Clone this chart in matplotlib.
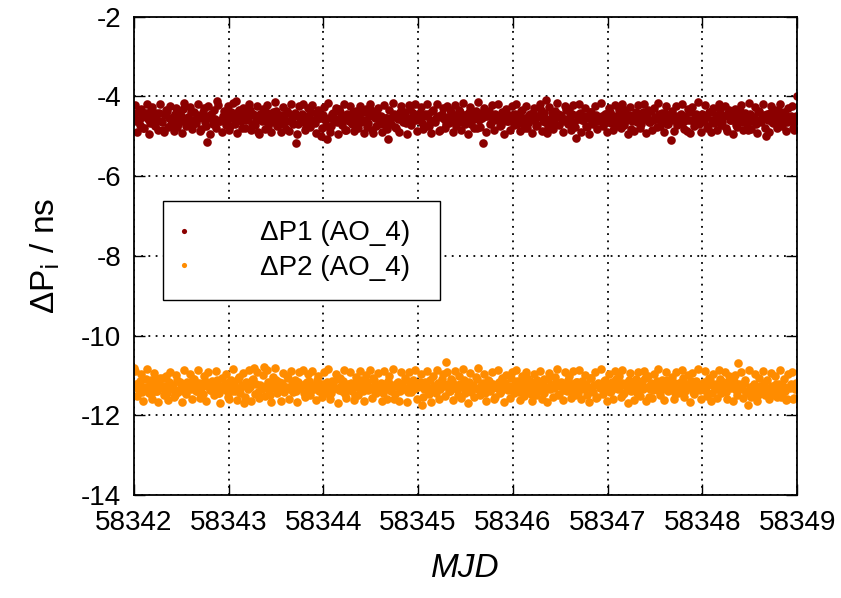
import matplotlib
matplotlib.use("Agg")
import matplotlib.pyplot as plt
import numpy as np

plt.rcParams['font.family'] = ['Liberation Sans', 'DejaVu Sans']
plt.rcParams['axes.unicode_minus'] = False

# muestras cada 15 min desde MJD 58342 hasta 58349 (dos pasadas intercaladas)
t0 = 58342
muestras_por_dia = 48

# pasada A: en punto de cada media hora
dp1_a = [
    -4.45, -4.62, -4.38, -4.71, -4.52, -4.80, -4.41, -4.57, -4.66, -4.33, -4.49, -4.74, -4.58, -4.42, -4.61, -4.85,
    -4.47, -4.36, -4.55, -4.69, -4.51, -4.43, -4.77, -4.60, -4.48, -4.31, -4.64, -4.53, -4.72, -4.40, -4.58, -4.67,
    -4.46, -4.54, -4.82, -4.39, -4.63, -5.15, -4.50, -4.44, -4.70, -4.56, -4.12, -4.61, -4.59, -4.50, -4.48, -4.66,
    -4.52, -4.73, -4.41, -4.57, -4.12, -4.38, -4.50, -4.79, -4.45, -4.60, -4.55, -4.34, -4.68, -4.47, -4.58, -4.88,
    -4.43, -4.62, -4.51, -4.40, -4.75, -4.56, -4.49, -4.65, -4.37, -4.59, -4.70, -4.46, -4.53, -4.81, -4.42, -4.61,
    -4.57, -4.48, -5.16, -4.69, -4.54, -4.44, -4.63, -4.76, -4.62, -4.50, -4.39, -4.58, -4.66, -4.45, -4.55, -5.00,
    -4.47, -4.60, -5.06, -4.53, -4.74, -4.42, -4.57, -4.65, -4.31, -4.49, -4.59, -4.83, -4.44, -4.62, -4.51, -4.38,
    -4.70, -4.55, -4.46, -4.64, -4.40, -4.58, -4.77, -4.50, -4.35, -4.92, -4.54, -4.43, -4.68, -4.48, -4.56, -4.72,
    -4.55, -5.06, -4.63, -4.52, -4.45, -4.80, -4.57, -4.39, -4.60, -4.49, -4.67, -4.54, -4.32, -4.62, -4.47, -4.58,
    -4.53, -4.41, -4.66, -4.50, -4.75, -4.44, -4.59, -4.37, -4.62, -4.55, -4.48, -4.84, -4.43, -4.57, -4.69, -4.51,
    -4.34, -4.60, -4.46, -4.73, -4.52, -4.40, -4.64, -4.56, -4.47, -4.61, -4.38, -4.70, -4.54, -4.45, -4.79, -4.58,
    -4.42, -5.17, -4.50, -4.50, -4.36, -4.67, -4.55, -4.44, -4.60, -4.49, -4.72, -4.57, -4.39, -4.62, -4.53, -4.46,
    -4.59, -4.43, -4.68, -4.51, -4.37, -4.64, -4.55, -4.80, -4.46, -4.60, -4.41, -4.57, -4.71, -4.49, -4.33, -4.62,
    -4.54, -4.08, -4.76, -4.58, -4.40, -4.66, -4.52, -4.45, -4.47, -4.61, -4.56, -4.35, -4.69, -4.50, -4.44, -4.63,
    -5.04, -4.57, -4.42, -4.59, -4.48, -4.73, -4.53, -4.38, -4.65, -4.55, -4.46, -4.61, -4.60, -4.50, -4.67, -4.43,
    -4.56, -4.39, -4.62, -4.48, -4.74, -4.53, -4.42, -4.66, -4.58, -4.35, -4.60, -4.47, -4.81, -4.55, -4.44, -4.63,
    -4.51, -4.70, -4.40, -4.57, -4.49, -4.64, -4.36, -4.59, -4.52, -4.77, -4.45, -4.61, -4.54, -4.41, -4.68, -4.56,
    -5.08, -4.60, -4.48, -4.72, -4.55, -4.43, -4.65, -4.50, -4.86, -4.58, -4.38, -4.62, -4.53, -4.46, -4.69, -4.57,
    -4.44, -4.61, -4.52, -4.75, -4.40, -4.58, -4.66, -4.47, -4.55, -4.34, -4.63, -4.50, -4.79, -4.42, -4.60, -4.54,
    -4.45, -4.71, -4.57, -4.37, -4.64, -4.49, -4.56, -4.83, -4.43, -4.62, -4.51, -4.68, -4.39, -4.59, -4.53, -4.46,
    -5.00, -4.58, -4.41, -4.65, -4.55, -4.48, -4.61, -4.36, -4.70, -4.52, -4.44, -4.63, -4.57, -4.50, -4.78, -4.62,
    -3.98,
]

dp2_a = [
    -10.80, -11.22, -11.35, -11.14, -11.41, -11.28, -11.09, -11.33, -11.19, -11.46, -11.25, -11.12, -11.38, -11.21, -11.30, -11.05,
    -11.27, -11.44, -11.16, -11.32, -11.24, -11.50, -11.11, -11.36, -11.20, -11.29, -11.42, -11.15, -11.26, -11.34, -11.08, -11.23,
    -11.39, -11.18, -11.31, -11.47, -11.13, -11.27, -11.22, -11.37, -11.17, -11.29, -11.10, -11.43, -11.25, -11.33, -11.19, -11.40,
    -11.26, -11.14, -11.38, -11.21, -11.31, -11.09, -11.45, -11.24, -11.70, -11.17, -11.35, -11.28, -11.12, -10.82, -11.20, -11.41,
    -11.23, -11.33, -10.78, -11.27, -11.16, -11.48, -11.22, -11.30, -11.11, -11.36, -11.25, -11.19, -11.42, -11.29, -11.07, -11.34,
    -11.21, -11.26, -11.39, -11.15, -11.32, -11.24, -11.44, -11.18, -11.28, -11.13, -11.37, -11.23, -11.30, -11.10, -11.40, -11.25,
    -11.20, -11.35, -11.16, -11.29, -11.43, -11.22, -11.31, -11.08, -11.37, -11.26, -11.14, -11.46, -11.23, -11.33, -11.18, -11.27,
    -11.52, -11.21, -11.30, -11.11, -11.39, -11.24, -11.17, -11.34, -11.28, -11.06, -11.41, -11.25, -11.32, -11.19, -11.45, -11.22,
    -11.29, -11.13, -11.36, -11.24, -11.60, -11.27, -11.15, -11.38, -11.21, -11.31, -11.10, -11.42, -11.26, -11.18, -11.34, -11.23,
    -11.28, -11.17, -11.74, -11.33, -11.22, -11.40, -11.12, -11.30, -11.25, -11.45, -11.19, -11.35, -11.08, -11.27, -10.66, -11.21,
    -11.38, -11.14, -11.31, -11.24, -11.48, -11.20, -11.29, -11.11, -11.36, -11.26, -11.16, -11.42, -11.23, -11.32, -11.09, -11.37,
    -11.25, -11.18, -11.44, -11.28, -11.13, -11.34, -11.21, -11.55, -11.30, -11.15, -11.39, -11.24, -11.19, -11.33, -11.27, -11.07,
    -11.36, -11.22, -11.14, -11.41, -11.29, -11.18, -11.33, -11.05, -11.26, -11.47, -11.21, -11.31, -11.12, -11.38, -11.24, -11.17,
    -11.43, -11.28, -11.09, -11.35, -11.23, -11.30, -11.15, -11.50, -11.25, -11.19, -11.37, -11.27, -11.10, -11.40, -11.22, -11.32,
    -11.16, -11.44, -11.26, -11.13, -11.34, -11.20, -11.29, -11.06, -11.39, -11.24, -11.57, -11.18, -11.31, -11.27, -11.14, -11.36,
    -11.23, -11.41, -11.17, -11.30, -11.08, -11.35, -11.26, -11.19, -11.46, -11.22, -11.32, -11.11, -11.38, -11.25, -11.15, -11.43,
    -11.28, -11.20, -11.34, -11.07, -11.29, -11.53, -11.18, -11.36, -11.24, -11.13, -11.40, -11.27, -11.21, -11.33, -11.10, -11.37,
    -11.25, -11.16, -11.45, -11.29, -11.19, -11.31, -11.06, -11.39, -11.22, -11.28, -11.14, -11.42, -11.26, -11.18, -11.34, -11.23,
    -11.30, -11.17, -11.38, -11.24, -11.12, -11.44, -11.27, -11.20, -11.35, -11.09, -11.32, -11.22, -11.41, -11.16, -11.29, -11.26,
    -11.13, -11.37, -10.68, -11.23, -11.34, -11.19, -11.45, -11.74, -11.28, -11.40, -11.21, -11.33, -11.48, -11.25, -11.36, -11.18,
    -11.42, -11.30, -11.52, -11.27, -11.39, -11.22, -11.46, -11.31, -11.55, -11.26, -11.38, -11.60, -11.29, -11.20, -11.58, -11.35,
    -11.32,
]

# pasada B: un cuarto de hora después
dp1_b = [
    -4.22, -4.88, -4.60, -4.31, -4.79, -4.47, -4.18, -4.93, -4.55, -4.27, -4.70, -4.41, -4.84, -4.20, -4.64, -4.90,
    -4.35, -4.76, -4.24, -4.58, -4.86, -4.29, -4.68, -4.44, -4.91, -4.17, -4.73, -4.52, -4.26, -4.82, -4.39, -4.66,
    -4.19, -4.87, -4.48, -4.30, -4.75, -4.23, -4.94, -4.57, -4.33, -4.80, -4.21, -4.62, -4.89, -4.37, -4.71, -4.25,
    -4.83, -4.40, -4.16, -4.69, -4.92, -4.34, -4.61, -4.28, -4.78, -4.50, -4.19, -4.85, -4.43, -4.72, -4.24, -4.95,
    -4.56, -4.32, -4.81, -4.21, -4.67, -4.89, -4.38, -4.15, -4.74, -4.46, -4.90, -4.27, -4.63, -4.36, -4.86, -4.20,
    -4.70, -4.42, -4.93, -4.25, -4.59, -4.18, -4.84, -4.49, -4.30, -4.77, -4.22, -4.65, -4.91, -4.33, -4.55, -4.80,
    -4.26, -4.73, -4.17, -4.88, -4.45, -4.62, -4.29, -4.94, -4.39, -4.71, -4.20, -4.83, -4.51, -4.24, -4.68, -4.87,
    -4.36, -4.79, -4.23, -4.58, -4.92, -4.31, -4.66, -4.19, -4.85, -4.43, -4.75, -4.28, -4.60, -4.90, -4.21, -4.54,
    -4.82, -4.34, -4.69, -4.16, -4.77, -4.48, -4.89, -4.25, -4.63, -4.38, -4.93, -4.22, -4.72, -4.41, -4.18, -4.86,
    -4.57, -4.27, -4.81, -4.45, -4.20, -4.74, -4.91, -4.35, -4.64, -4.19, -4.87, -4.52, -4.30, -4.78, -4.24, -4.67,
    -4.40, -4.88, -4.21, -4.61, -4.33, -4.84, -4.17, -4.70, -4.47, -4.93, -4.26, -4.59, -4.80, -4.37, -4.15, -4.76,
    -4.53, -4.29, -4.90, -4.42, -4.68, -4.22, -4.85, -4.56, -4.19, -4.73, -4.39, -4.94, -4.31, -4.62, -4.83, -4.25,
    -4.71, -4.18, -4.58, -4.87, -4.34, -4.79, -4.23, -4.66, -4.44, -4.91, -4.28, -4.75, -4.50, -4.20, -4.86, -4.41,
    -4.63, -4.92, -4.27, -4.55, -4.81, -4.36, -4.17, -4.72, -4.48, -4.89, -4.24, -4.65, -4.32, -4.84, -4.21, -4.77,
    -4.46, -4.19, -4.88, -4.60, -4.30, -4.76, -4.93, -4.38, -4.69, -4.23, -4.82, -4.53, -4.16, -4.74, -4.43, -4.90,
    -4.28, -4.67, -4.85, -4.21, -4.57, -4.35, -4.80, -4.18, -4.71, -4.49, -4.94, -4.26, -4.62, -4.87, -4.40, -4.22,
    -4.78, -4.45, -4.20, -4.91, -4.33, -4.64, -4.83, -4.29, -4.56, -4.17, -4.75, -4.42, -4.89, -4.24, -4.68, -4.51,
    -4.37, -4.86, -4.23, -4.70, -4.47, -4.19, -4.81, -4.59, -4.32, -4.92, -4.26, -4.73, -4.44, -4.15, -4.66, -4.88,
    -4.54, -4.21, -4.79, -4.39, -4.90, -4.28, -4.63, -4.84, -4.18, -4.72, -4.48, -4.25, -4.87, -4.35, -4.60, -4.93,
    -4.31, -4.76, -4.50, -4.22, -4.85, -4.41, -4.69, -4.17, -4.82, -4.57, -4.27, -4.91, -4.36, -4.64, -4.20, -4.78,
    -4.45, -4.88, -4.24, -4.67, -4.33, -4.80, -4.53, -4.19, -4.74, -4.40, -4.86, -4.29, -4.61, -4.23, -4.83, -4.48,
]

dp2_b = [
    -10.88, -11.52, -11.19, -10.97, -11.63, -11.30, -10.84, -11.45, -11.12, -11.58, -10.93, -11.38, -11.66, -11.05, -11.27, -11.49,
    -11.01, -11.61, -10.90, -11.34, -11.55, -10.98, -11.42, -11.16, -11.67, -10.86, -11.47, -11.23, -10.95, -11.59, -11.09, -11.40,
    -10.85, -11.56, -11.21, -11.00, -11.64, -10.92, -11.37, -11.13, -11.50, -10.89, -11.44, -11.68, -11.06, -11.31, -10.96, -11.53,
    -11.60, -11.11, -10.83, -11.39, -11.62, -11.03, -11.28, -10.94, -11.54, -11.18, -10.87, -11.65, -11.08, -11.46, -10.91, -11.57,
    -11.25, -10.99, -11.51, -10.86, -11.36, -11.66, -11.04, -10.82, -11.43, -11.15, -11.63, -10.93, -11.33, -11.02, -11.59, -10.88,
    -11.41, -11.10, -11.67, -10.90, -11.26, -10.85, -11.55, -11.17, -10.97, -11.48, -10.89, -11.35, -11.62, -11.00, -11.22, -11.53,
    -10.92, -11.44, -10.84, -11.60, -11.14, -11.32, -10.96, -11.68, -11.07, -11.40, -10.87, -11.57, -11.20, -10.91, -11.38, -11.61,
    -11.03, -11.50, -10.89, -11.29, -11.65, -10.98, -11.37, -10.86, -11.56, -11.12, -11.45, -10.94, -11.31, -11.63, -10.88, -11.24,
    -11.58, -11.01, -11.39, -10.83, -11.47, -11.19, -11.64, -10.92, -11.34, -11.06, -11.67, -10.90, -11.42, -11.11, -10.85, -11.59,
    -11.27, -10.95, -11.54, -11.16, -10.88, -11.46, -11.66, -11.02, -11.35, -10.86, -11.60, -11.21, -10.97, -11.52, -10.91, -11.38,
    -11.08, -11.62, -10.89, -11.33, -11.00, -11.57, -10.84, -11.43, -11.18, -11.68, -10.93, -11.30, -11.55, -11.04, -10.82, -11.49,
    -11.22, -10.96, -11.63, -11.10, -11.40, -10.90, -11.59, -11.26, -10.87, -11.45, -11.07, -11.66, -10.99, -11.36, -11.56, -10.92,
    -11.44, -10.85, -11.28, -11.61, -11.02, -11.51, -10.91, -11.37, -11.13, -11.65, -10.95, -11.48, -11.20, -10.88, -11.58, -11.09,
    -11.34, -11.67, -10.94, -11.24, -11.54, -11.03, -10.84, -11.46, -11.17, -11.62, -10.90, -11.39, -11.00, -11.57, -10.89, -11.50,
    -11.15, -10.86, -11.60, -11.31, -10.98, -11.49, -11.66, -11.05, -11.41, -10.92, -11.55, -11.23, -10.83, -11.47, -11.11, -11.63,
    -10.96, -11.38, -11.59, -10.89, -11.27, -11.01, -11.53, -10.85, -11.44, -11.19, -11.68, -10.93, -11.32, -11.61, -11.08, -10.90,
    -11.52, -11.14, -10.88, -11.64, -11.00, -11.35, -11.57, -10.97, -11.25, -10.84, -11.48, -11.12, -11.62, -10.91, -11.40, -11.21,
    -11.04, -11.58, -10.90, -11.43, -11.18, -10.86, -11.54, -11.29, -10.99, -11.66, -10.94, -11.46, -11.13, -10.83, -11.37, -11.60,
    -11.24, -10.89, -11.51, -11.07, -11.63, -10.95, -11.33, -11.56, -10.87, -11.45, -11.16, -10.92, -11.60, -11.02, -11.30, -11.65,
    -10.98, -11.48, -11.20, -10.91, -11.57, -11.10, -11.39, -10.85, -11.53, -11.26, -10.96, -11.64, -11.05, -11.34, -10.88, -11.50,
    -11.12, -11.59, -10.93, -11.36, -11.01, -11.55, -11.22, -10.87, -11.47, -11.09, -11.61, -10.97, -11.31, -10.90, -11.56, -11.18,
]

etiquetas = ['ΔP1 (AO_4)', 'ΔP2 (AO_4)']
colores = ['#8b0000', '#ff8c00']

mjd_a = t0 + np.arange(len(dp1_a)) / muestras_por_dia
mjd_b = t0 + (np.arange(len(dp1_b)) + 0.5) / muestras_por_dia

mjd = np.concatenate([mjd_a, mjd_b])
dp1 = np.concatenate([dp1_a, dp1_b])
dp2 = np.concatenate([dp2_a, dp2_b])
orden = np.argsort(mjd)

fig = plt.figure(figsize=(8.41, 5.98), dpi=100)
ax = fig.add_axes([0.159, 0.172, 0.789, 0.800])

ax.plot(mjd[orden], dp1[orden], 'o', color=colores[0], ms=6.2, mec='none', label=etiquetas[0])
ax.plot(mjd[orden], dp2[orden], 'o', color=colores[1], ms=6.2, mec='none', label=etiquetas[1])

ax.set_xlim(58342, 58349)
ax.set_ylim(-14, -2)
ax.set_xticks(range(58342, 58350))
ax.set_yticks(range(-14, -1, 2))
ax.grid(True, color='black', linestyle=(0, (1, 3)), linewidth=1.3)
ax.tick_params(direction='in', top=True, right=True, length=8, width=1,
               labelsize=20)
ax.tick_params(axis='x', pad=11)
ax.tick_params(axis='y', pad=9)
ax.ticklabel_format(useOffset=False)
for s in ax.spines.values():
    s.set_linewidth(1.3)

ax.set_xlabel('MJD', fontsize=24, style='italic', labelpad=12)
ax.set_ylabel('ΔP$_{\\mathrm{i}}$ / ns', fontsize=24, labelpad=14)

leg = ax.legend(loc='upper left', bbox_to_anchor=(0.194, 0.495, 0.329, 0.169),
                bbox_transform=fig.transFigure, borderaxespad=0, mode='expand',
                fontsize=20, markerscale=0.6, handletextpad=2.7,
                handlelength=0.1, borderpad=0.7, labelspacing=0.3,
                fancybox=False, framealpha=1, edgecolor='black')
leg.get_frame().set_linewidth(1.0)

fig.savefig('out.png', dpi=100)
